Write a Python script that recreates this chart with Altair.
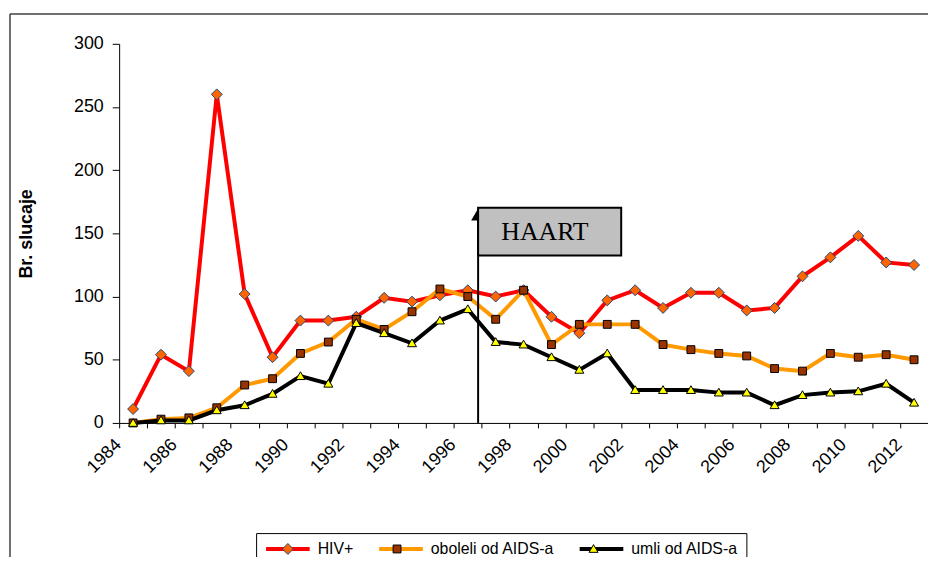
import altair as alt
import pandas as pd

# ---- data ----
years = list(range(1984, 2013))
hiv = [11, 54, 41, 260, 102, 52, 81, 81, 84, 99, 96, 101, 105, 100, 105, 84, 71, 97, 105, 91,
       103, 103, 89, 91, 116, 131, 148, 127, 125]
aids = [0, 3, 4, 12, 30, 35, 55, 64, 82, 74, 88, 106, 100, 82, 105, 62, 78, 78, 78, 62,
        58, 55, 53, 43, 41, 55, 52, 54, 50]
deaths = [0, 2, 2, 10, 14, 23, 37, 31, 79, 71, 63, 81, 90, 64, 62, 52, 42, 55, 26, 26,
          26, 24, 24, 14, 22, 24, 25, 31, 16]
series_names = ["HIV+", "oboleli od AIDS-a", "umli od AIDS-a"]
line_colors = ["#FF0000", "#FF9900", "#000000"]
marker_fill = ["#FF6600", "#993300", "#FFFF00"]
marker_stroke = ["#1F497D", "#000000", "#000000"]
# marker outlines (unit box); the leading moves only widen the legend bounds
pad_moves = "M-4.27,0M4.27,0"
marker_shape = [
    pad_moves + "M0,-1L1,0L0,1L-1,0Z",
    pad_moves + "M-0.72,-0.72L0.72,-0.72L0.72,0.72L-0.72,0.72Z",
    pad_moves + "M0,-0.8L0.82,0.62L-0.82,0.62Z",
]
line_symbol = "M-4,0L4,0"
x_ticks = list(range(1984, 2014))
y_ticks = [0, 50, 100, 150, 200, 250, 300]
haart = {"x": 1996.87, "x2": 2002.0, "y": 132.5, "y2": 170.2,
         "tx": 1997.7, "ty": 144.5, "arrow": 164.9, "label": "HAART"}

rows = []
for name, vals in zip(series_names, [hiv, aids, deaths]):
    for yr, v in zip(years, vals):
        rows.append({"year": yr, "series": name, "value": v})
df = pd.DataFrame(rows)

W, H = 815, 382
FONT = "Liberation Sans"
xscale = alt.Scale(domain=[1984, 2013], nice=False, zero=False)
yscale = alt.Scale(domain=[0, 300], nice=False)

xaxis = alt.Axis(values=x_ticks, labelExpr="datum.value % 2 == 0 ? '' + datum.value : ''",
                 labelAngle=315, labelAlign="right", labelBaseline="middle", labelPadding=14,
                 labelOffset=-1, tickSize=5, title=None, labelOverlap=False, labelFlush=False)
yaxis = alt.Axis(values=y_ticks, tickSize=7, labelPadding=9, title="Br. slucaje",
                 titleAngle=270, titlePadding=38)

common_leg = dict(orient="none", legendX=138, legendY=493, direction="horizontal", title=None,
                  padding=8, symbolSize=121, symbolOffset=16, labelOffset=22, columnPadding=17,
                  labelFontSize=16, labelFont=FONT, labelColor="#000")
leg1 = alt.Legend(strokeColor="#000000", symbolType=line_symbol, symbolStrokeWidth=4,
                  zindex=0, **common_leg)
leg2 = alt.Legend(symbolStrokeWidth=1, labelOpacity=0, zindex=1, **common_leg)

base = alt.Chart(df).transform_calculate(xpos="datum.year + 0.5")
X = alt.X("xpos:Q", scale=xscale, axis=xaxis)
Y = alt.Y("value:Q", scale=yscale, axis=yaxis)

lines = base.mark_line(strokeWidth=4).encode(
    x=X, y=Y,
    color=alt.Color("series:N", scale=alt.Scale(domain=series_names, range=line_colors), legend=leg1),
)

points = base.mark_point(filled=True, opacity=1, strokeWidth=1, size=121).encode(
    x=X, y=Y,
    shape=alt.Shape("series:N", scale=alt.Scale(range=marker_shape), legend=leg2),
    fill=alt.Fill("series:N", scale=alt.Scale(range=marker_fill), legend=leg2),
    stroke=alt.Stroke("series:N", scale=alt.Scale(range=marker_stroke), legend=leg2),
)

ann = alt.Chart(alt.Data(values=[haart]))
AX = alt.X("x:Q", scale=xscale, axis=xaxis)
haart_rule = ann.transform_calculate(zero="0").mark_rule(color="#000", strokeWidth=2).encode(
    x=AX, y=alt.Y("zero:Q", scale=yscale, axis=yaxis), y2="arrow:Q"
)
haart_arrow = ann.mark_point(shape="triangle-up", filled=True, color="#000", opacity=1, size=196).encode(
    x=AX, y=alt.Y("arrow:Q", scale=yscale, axis=yaxis)
)
haart_box = ann.mark_rect(fill="#C0C0C0", stroke="#000", strokeWidth=2).encode(
    x=AX, x2="x2:Q", y=alt.Y("y:Q", scale=yscale, axis=yaxis), y2="y2:Q"
)
haart_text = ann.mark_text(font="Liberation Serif", fontSize=26, align="left",
                           baseline="alphabetic", color="#000").encode(
    x=alt.X("tx:Q", scale=xscale, axis=xaxis), y=alt.Y("ty:Q", scale=yscale, axis=yaxis),
    text="label:N"
)

frame_data = alt.Chart(alt.Data(values=[{"k": 1}]))
frame_top = frame_data.mark_rule(color="#404040", strokeWidth=1.5).encode(
    x=alt.value(-110), x2=alt.value(W), y=alt.value(-30))
frame_left = frame_data.mark_rule(color="#404040", strokeWidth=1.5).encode(
    x=alt.value(-110), y=alt.value(-30), y2=alt.value(H + 200))

chart = alt.layer(
    lines, points, haart_rule, haart_arrow, haart_box, haart_text, frame_top, frame_left
).properties(
    width=W, height=H,
    autosize=alt.AutoSizeParams(type="none"),
    padding={"left": 112, "top": 34, "right": 0, "bottom": 133},
    background="#FFFFFF",
).configure_view(
    stroke=None
).configure_axis(
    grid=False, domainColor="#000", tickColor="#000", labelColor="#000",
    labelFont=FONT, labelFontSize=18, titleFont=FONT, titleFontSize=18,
    titleFontWeight="bold", titleColor="#000"
)

chart.save("out.html", embed_options={"renderer": "svg", "actions": False})
